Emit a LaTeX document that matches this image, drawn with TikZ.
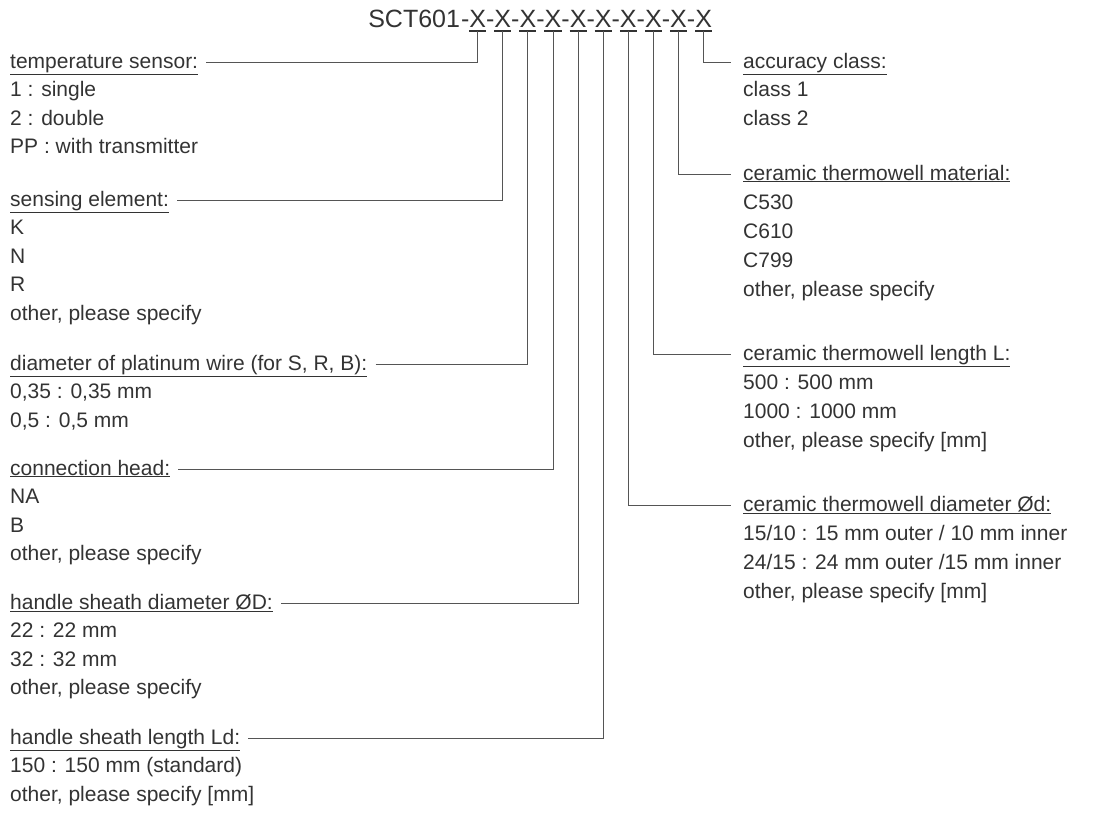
\documentclass[tikz,border=0pt]{standalone}
\usepackage{fontspec}
\setmainfont{Liberation Sans}
\definecolor{txt}{HTML}{333333}
\definecolor{ln}{HTML}{555555}
\begin{document}
\begin{tikzpicture}[x=1pt,y=-1pt,
  every node/.style={text=txt},
  lbl/.style={anchor=base west, inner sep=0pt, font=\fontsize{21}{25}\selectfont},
  tx/.style={anchor=base, inner sep=0pt, font=\fontsize{25}{30}\selectfont},
  conn/.style={draw=ln, line width=1pt},
  ul/.style={draw=txt, line width=1.5pt}]
\useasboundingbox (0,0) rectangle (1093,812);

% title
\foreach \i in {1,...,10} {
  \node[tx] (x\i) at ({477.7+25.1*(\i-1)},27) {X};
  \node[tx] (d\i) at ({465.2+25.1*(\i-1)},27) {-};
  \coordinate (u\i) at ([yshift=-4pt]x\i.base);
  \draw[ul] ([yshift=-4pt]x\i.base west) -- ([yshift=-4pt]x\i.base east);
}
\node[tx, anchor=base east] (sct) at ([xshift=-5pt]d1.base) {SCT601};

% left column
\node[lbl] (ts) at (10,68) {\underline{temperature sensor:}};
\node[lbl] (ts1) at (10,96.5) {1 : single};
\node[lbl] (ts2) at (10,125) {2 : double};
\node[lbl] (ts3) at (10,153.5) {PP : with transmitter};

\node[lbl] (se) at (10,206) {\underline{sensing element:}};
\node[lbl] (se1) at (10,234.5) {K};
\node[lbl] (se2) at (10,263) {N};
\node[lbl] (se3) at (10,291.5) {R};
\node[lbl] (se4) at (10,320) {other, please specify};

\node[lbl] (dp) at (10,370) {\underline{diameter of platinum wire (for S, R, B):}};
\node[lbl] (dp1) at (10,398.5) {0,35 : 0,35 mm};
\node[lbl] (dp2) at (10,427) {0,5 : 0,5 mm};

\node[lbl] (ch) at (10,475) {\underline{connection head:}};
\node[lbl] (ch1) at (10,503.5) {NA};
\node[lbl] (ch2) at (10,532) {B};
\node[lbl] (ch3) at (10,560.5) {other, please specify};

\node[lbl] (hd) at (10,609) {\underline{handle sheath diameter ØD:}};
\node[lbl] (hd1) at (10,637.5) {22 : 22 mm};
\node[lbl] (hd2) at (10,666) {32 : 32 mm};
\node[lbl] (hd3) at (10,694.5) {other, please specify};

\node[lbl] (hl) at (10,744) {\underline{handle sheath length Ld:}};
\node[lbl] (hl1) at (10,772.5) {150 : 150 mm (standard)};
\node[lbl] (hl2) at (10,801) {other, please specify [mm]};

% right column
\node[lbl] (ac) at (743,68) {\underline{accuracy class:}};
\node[lbl] (ac1) at (743,96.5) {class 1};
\node[lbl] (ac2) at (743,125) {class 2};

\node[lbl] (cm) at (743,180) {\underline{ceramic thermowell material:}};
\node[lbl] (cm1) at (743,209) {C530};
\node[lbl] (cm2) at (743,238) {C610};
\node[lbl] (cm3) at (743,267) {C799};
\node[lbl] (cm4) at (743,296) {other, please specify};

\node[lbl] (cl) at (743,360) {\underline{ceramic thermowell length L:}};
\node[lbl] (cl1) at (743,389) {500 : 500 mm};
\node[lbl] (cl2) at (743,418) {1000 : 1000 mm};
\node[lbl] (cl3) at (743,447) {other, please specify [mm]};

\node[lbl] (cd) at (743,511) {\underline{ceramic thermowell diameter Ød:}};
\node[lbl] (cd1) at (743,540) {15/10 : 15 mm outer / 10 mm inner};
\node[lbl] (cd2) at (743,569) {24/15 : 24 mm outer /15 mm inner};
\node[lbl] (cd3) at (743,598) {other, please specify [mm]};

% connectors
\draw[conn] ([xshift=8pt,yshift=6pt]ts.base east) -| (u1);
\draw[conn] ([xshift=8pt,yshift=6pt]se.base east) -| (u2);
\draw[conn] ([xshift=8pt,yshift=6pt]dp.base east) -| (u3);
\draw[conn] ([xshift=8pt,yshift=6pt]ch.base east) -| (u4);
\draw[conn] ([xshift=8pt,yshift=6pt]hd.base east) -| (u5);
\draw[conn] ([xshift=8pt,yshift=6pt]hl.base east) -| (u6);
\draw[conn] (u7) |- ([xshift=-12pt,yshift=6pt]cd.base west);
\draw[conn] (u8) |- ([xshift=-12pt,yshift=6pt]cl.base west);
\draw[conn] (u9) |- ([xshift=-12pt,yshift=6pt]cm.base west);
\draw[conn] (u10) |- ([xshift=-12pt,yshift=6pt]ac.base west);
\end{tikzpicture}
\end{document}
